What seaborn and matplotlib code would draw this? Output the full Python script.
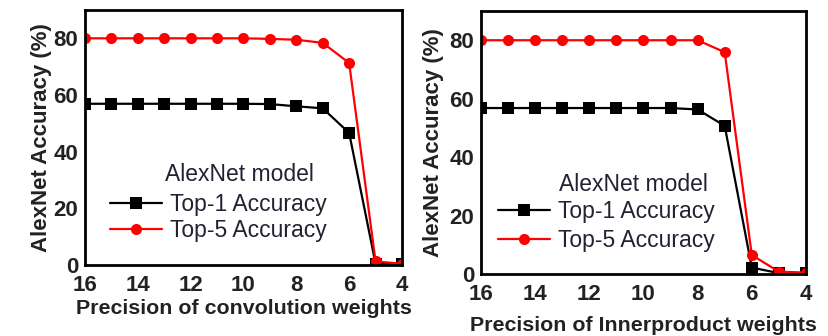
import matplotlib
matplotlib.use("Agg")
import matplotlib.pyplot as plt
import seaborn as sns
import pandas as pd
from matplotlib.ticker import MultipleLocator

# Data
precision = [16, 15, 14, 13, 12, 11, 10, 9, 8, 7, 6, 5, 4]
conv_top1 = [56.9, 56.9, 56.9, 56.9, 56.9, 56.9, 56.9, 56.8, 56.0, 55.3, 46.6, 0.5, 0.3]
conv_top5 = [80.0, 80.0, 80.0, 80.0, 80.0, 80.0, 80.0, 79.8, 79.5, 78.4, 71.3, 1.3, 0.4]
inner_top1 = [56.8, 56.8, 56.8, 56.8, 56.8, 56.8, 56.8, 56.8, 56.3, 50.7, 2.2, 0.3, 0.2]
inner_top5 = [80.0, 80.0, 80.0, 80.0, 80.0, 80.0, 80.0, 80.0, 80.0, 75.9, 6.5, 0.8, 0.5]
series_names = ["Top-1 Accuracy", "Top-5 Accuracy"]
xlabels = ["Precision of convolution weights", "Precision of Innerproduct weights"]
ylabel = "AlexNet Accuracy (%)"
legend_title = "AlexNet model"

sns.set_theme(style="white")
plt.rcParams['font.family'] = ['Liberation Sans', 'DejaVu Sans']

fig = plt.figure(figsize=(8.29, 3.36), dpi=100)
ax1 = fig.add_axes([0.1025, 0.2113, 0.3824, 0.759])
ax2 = fig.add_axes([0.5802, 0.1845, 0.392, 0.7827])

def make_df(t1, t5):
    return pd.DataFrame({
        "precision": precision * 2,
        "acc": t1 + t5,
        "series": [series_names[0]] * len(precision) + [series_names[1]] * len(precision),
    })

# axis, top1, top5, xlabel, legend anchor, xlabelpad, ylabelpad, label spacing, title sep, title suffix
panels = [(ax1, conv_top1, conv_top5, xlabels[0], (0.079, 0.40), 2.5, 1, 0.1, 5.3, "  "),
          (ax2, inner_top1, inner_top5, xlabels[1], (0.052, 0.385), 8, 4, 0.27, 3.0, " ")]

for ax, t1, t5, xl, legloc, xpad, ypad, lsp, tsep, suffix in panels:
    df = make_df(t1, t5)
    sns.lineplot(data=df, x="precision", y="acc", hue="series", style="series",
                 palette={series_names[0]: "black", series_names[1]: "#ff0000"},
                 markers={series_names[0]: "s", series_names[1]: "o"},
                 dashes=False, linewidth=1.6, markersize=8, markeredgewidth=0,
                 ax=ax)
    ax.set_xlim(16, 4)
    ax.set_ylim(0, 90)
    ax.xaxis.set_major_locator(MultipleLocator(2))
    ax.xaxis.set_minor_locator(MultipleLocator(1))
    ax.yaxis.set_major_locator(MultipleLocator(20))
    ax.yaxis.set_minor_locator(MultipleLocator(10))
    ax.tick_params(which="major", direction="out", length=4, width=1.5,
                   labelsize=16, colors="black")
    ax.tick_params(which="minor", direction="out", length=2.5, width=1.2, colors="black")
    ax.tick_params(axis="x", which="major", pad=3)
    ax.tick_params(axis="y", which="major", pad=1)
    for lab in ax.get_xticklabels() + ax.get_yticklabels():
        lab.set_fontweight("bold")
        lab.set_color("#222222")
    for sp in ax.spines.values():
        sp.set_linewidth(2)
        sp.set_color("black")
    ax.set_xlabel(xl, fontsize=15.4, fontweight="bold", color="#222222", labelpad=xpad)
    ax.set_ylabel(ylabel, fontsize=16, fontweight="bold", color="#222222", labelpad=ypad)
    leg = ax.legend(title=legend_title + suffix, loc="upper left", bbox_to_anchor=legloc,
                    frameon=False, fontsize=16.5, title_fontsize=16.5,
                    handlelength=2.27, handletextpad=0.35, labelspacing=lsp,
                    borderpad=0, borderaxespad=0)
    leg.set_alignment("right")
    leg._legend_box.sep = tsep
    leg.get_title().set_color("#222233")
    for t in leg.get_texts():
        t.set_color("#222233")

fig.savefig("out.png", dpi=100)
